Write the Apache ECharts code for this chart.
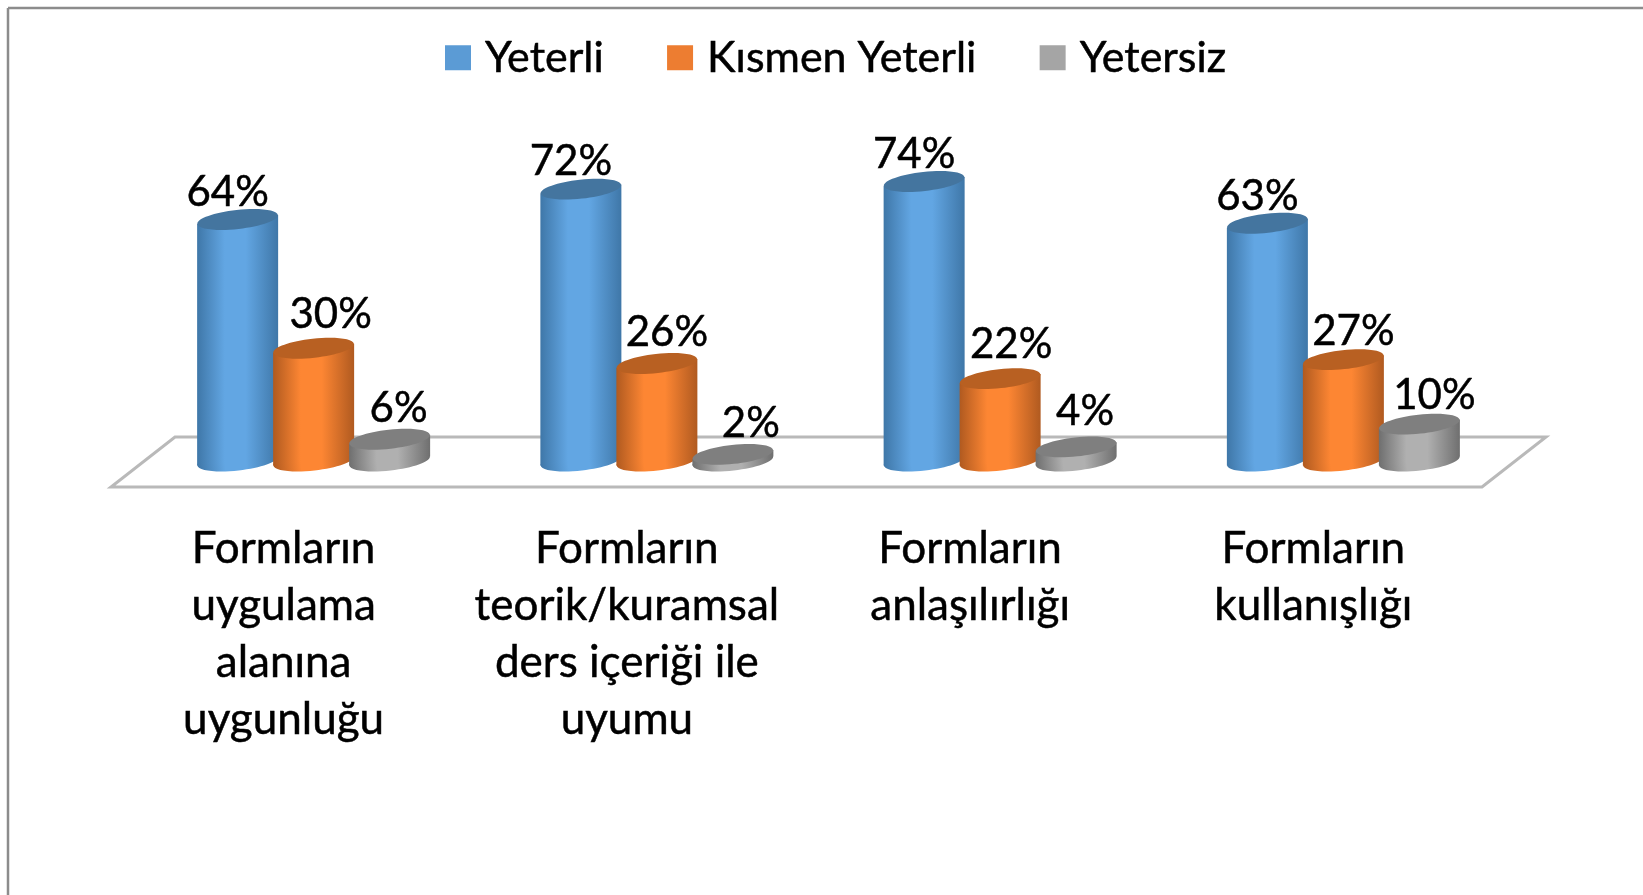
<!DOCTYPE html>
<html><head><meta charset="utf-8">
<style>html,body{margin:0;padding:0;background:#fff}#c{width:1643px;height:895px}</style>
<script src="https://cdn.jsdelivr.net/npm/echarts@6/dist/echarts.min.js"></script>
</head><body><div id="c"></div>
<script>
const categories = ['Formların\nuygulama\nalanına\nuygunluğu','Formların\nteorik/kuramsal\nders içeriği ile\nuyumu','Formların\nanlaşılırlığı','Formların\nkullanışlığı'];
const yeterli = [64,72,74,63];
const kismen = [30,26,22,27];
const yetersiz = [6,2,4,10];
const seriesNames = ['Yeterli','Kısmen Yeterli','Yetersiz'];
const palette = [
  {legend:'#5b9bd5',light:'#62a6e3',dark:'#3f77a8',top:'#44759f'},
  {legend:'#ed7d31',light:'#fd8633',dark:'#b05a20',top:'#b86022'},
  {legend:'#a5a5a5',light:'#b0b0b0',dark:'#6f6f6f',top:'#7f7f7f'}
];
// label nudges around the cylinder top, one row per series
const labelDx = [[-10,-10,-10,-10],[17,10,11,10],[9,18,9,15]];
const labelDy = [[-27,-28,-27,-27],[-34,-31,-34,-28],[-31,-31,-35,-29]];
const DEPTH_X=64, DEPTH_Y=50;
const FONT='Lato, "Open Sans", sans-serif';

function floorItem(params, api){
  const g=params.coordSys;
  const y0=g.y+g.height, x0=g.x-1, x1=g.x+g.width-3;
  return {type:'polygon',silent:true,
    shape:{points:[[x0,y0],[x1,y0],[x1+DEPTH_X,y0-DEPTH_Y],[x0+DEPTH_X,y0-DEPTH_Y]]},
    style:{fill:'none',stroke:'#b9b9b9',lineWidth:3}};
}
function cylinder(si){
  return function(params, api){
    const i=api.value(0), v=api.value(1);
    const band=api.size([1,0])[0];
    const p=api.coord([i,v]), base=api.coord([i,0]);
    const cx=p[0]+DEPTH_X/2-2+(si-1)*band*0.2214;
    const yT=p[1]-DEPTH_Y/2, yB=base[1]-DEPTH_Y/2-1;
    const rx=band*0.118, ry=9.5, tilt=4.5, rot=0.11;
    const c=palette[si];
    const grad={type:'linear',x:0,y:0,x2:1,y2:0,colorStops:[
      {offset:0,color:c.dark},{offset:0.34,color:c.light},{offset:0.6,color:c.light},{offset:1,color:c.dark}]};
    return {type:'group',children:[
      {type:'ellipse',shape:{cx:cx,cy:yB,rx:rx,ry:ry},originX:cx,originY:yB,rotation:rot,style:{fill:grad}},
      {type:'polygon',shape:{points:[[cx-rx,yT+tilt],[cx+rx,yT-tilt],[cx+rx,yB-tilt],[cx-rx,yB+tilt]]},style:{fill:grad}},
      {type:'ellipse',shape:{cx:cx,cy:yT,rx:rx,ry:ry},originX:cx,originY:yT,rotation:rot,style:{fill:c.top}},
      {type:'text',style:{text:v+'%',x:cx+labelDx[si][i],y:yT+labelDy[si][i],align:'center',verticalAlign:'middle',fill:'#000',font:'42px '+FONT,stroke:'#000',lineWidth:0.5}}
    ]};
  };
}
const values=[yeterli,kismen,yetersiz];
const chart=echarts.init(document.getElementById('c'));
chart.setOption({
  animation:false,
  backgroundColor:'#fff',
  graphic:[
    {type:'line',shape:{x1:8,y1:8,x2:1643,y2:8},style:{stroke:'#8c8c8c',lineWidth:2.5}},
    {type:'line',shape:{x1:8,y1:8,x2:8,y2:895},style:{stroke:'#8c8c8c',lineWidth:2.5}}
  ],
  legend:{data:seriesNames,left:440,top:31,icon:'rect',itemWidth:26,itemHeight:25,itemGap:63,
    textStyle:{fontFamily:FONT,fontSize:43,color:'#000',padding:[0,0,0,9],textBorderColor:'#000',textBorderWidth:0.5}},
  grid:{left:112,top:108,width:1373,height:379,containLabel:false},
  xAxis:{type:'category',data:categories,axisLine:{show:false},axisTick:{show:false},
    axisLabel:{interval:0,margin:33,fontFamily:FONT,fontSize:44,lineHeight:57,color:'#000',align:'center',verticalAlign:'top',textBorderColor:'#000',textBorderWidth:0.5}},
  yAxis:{type:'value',min:0,max:100,show:false,splitLine:{show:false}},
  series:[
    {type:'custom',name:'_floor',coordinateSystem:'cartesian2d',silent:true,z:1,data:[[0,0]],encode:{x:0,y:1},renderItem:floorItem}
  ].concat(values.map((vals,si)=>({
    type:'custom',name:seriesNames[si],coordinateSystem:'cartesian2d',z:2+si,
    itemStyle:{color:palette[si].legend},
    data:vals.map((v,i)=>[i,v]),encode:{x:0,y:1},renderItem:cylinder(si)
  })))
});
</script></body></html>
